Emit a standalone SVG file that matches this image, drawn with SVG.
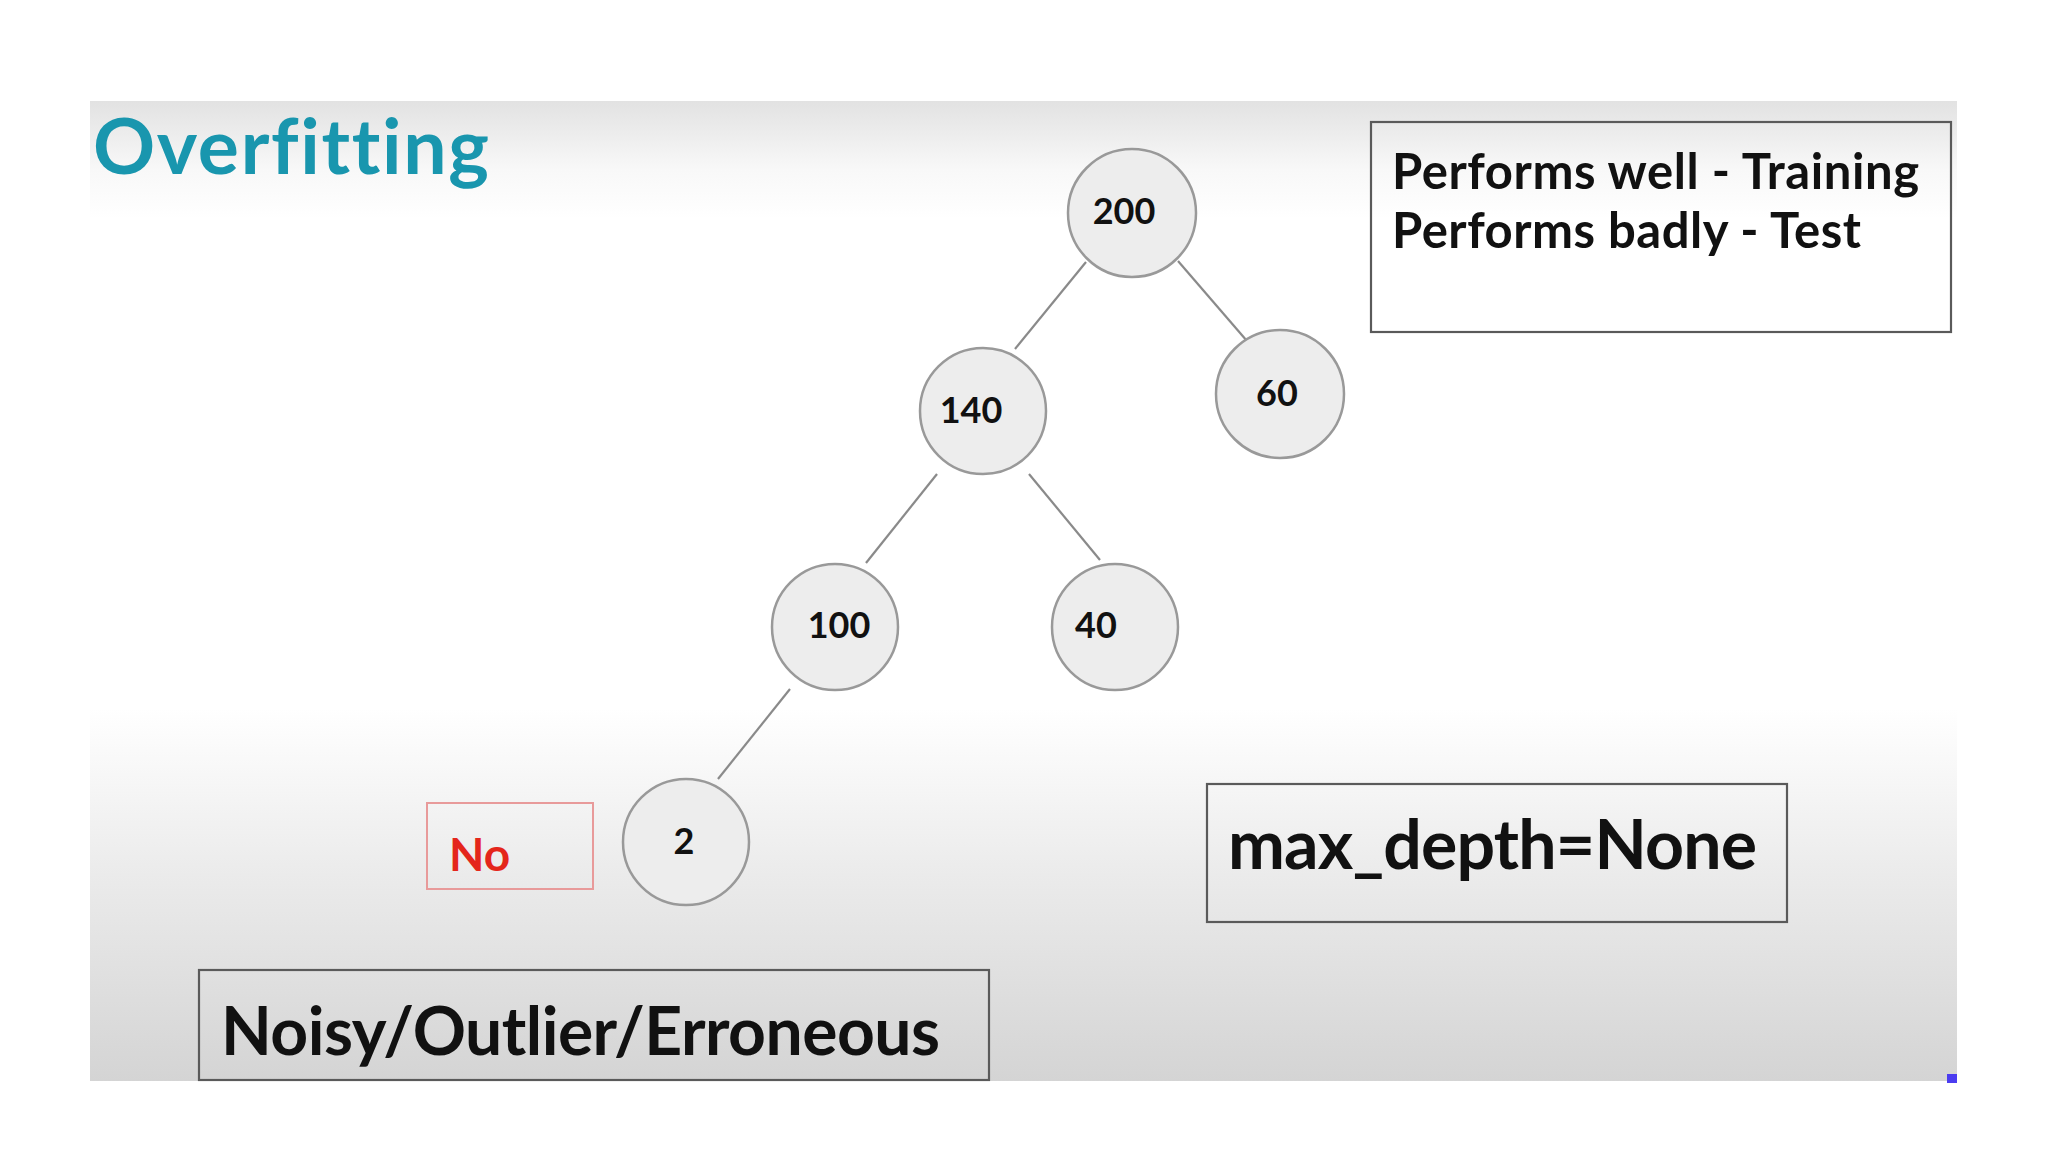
<svg xmlns="http://www.w3.org/2000/svg" width="2048" height="1152" viewBox="0 0 2048 1152">
  <defs>
    <linearGradient id="bg" x1="0" y1="101" x2="0" y2="1081" gradientUnits="userSpaceOnUse">
      <stop offset="0" stop-color="#e2e2e2"/>
      <stop offset="0.07" stop-color="#f8f8f8"/>
      <stop offset="0.12" stop-color="#ffffff"/>
      <stop offset="0.62" stop-color="#ffffff"/>
      <stop offset="0.78" stop-color="#ececec"/>
      <stop offset="1" stop-color="#d4d4d4"/>
    </linearGradient>
    <style>
      .node circle { fill: #ededed; stroke: #999999; stroke-width: 2.5; }
      .node text { font-family: Lato, "Liberation Sans", sans-serif; font-weight: 700; font-size: 36px; fill: #111111; text-anchor: middle; }
      .conn line { stroke: #8a8a8a; stroke-width: 2.2; }
      .box { fill: none; stroke: #5a5a5a; stroke-width: 2.2; }
      .lbl { font-family: Lato, "Liberation Sans", sans-serif; font-weight: 700; fill: #111111; font-variant-ligatures: none; }
    </style>
  </defs>
  <rect x="0" y="0" width="2048" height="1152" fill="#ffffff"/>
  <rect x="90" y="101" width="1867" height="980" fill="url(#bg)"/>
  <rect x="1947" y="1074" width="10" height="9" fill="#4b3cf0"/>

  <text id="title" x="93" y="174" font-family="Lato, 'Liberation Sans', sans-serif" font-weight="700" font-size="77" fill="#1996ae" style="font-variant-ligatures: none" textLength="396">Overfitting</text>

  <g id="connectors" class="conn">
    <line x1="1086" y1="262" x2="1015" y2="349"/>
    <line x1="1178" y1="261" x2="1247" y2="341"/>
    <line x1="937" y1="474" x2="866" y2="563"/>
    <line x1="1029" y1="474" x2="1100" y2="560"/>
    <line x1="790" y1="689" x2="718" y2="779"/>
  </g>

  <g id="node-200" class="node"><circle cx="1132" cy="213" r="64"/><text x="1124" y="224">200</text></g>
  <g id="node-60" class="node"><circle cx="1280" cy="394" r="64"/><text x="1277" y="406">60</text></g>
  <g id="node-140" class="node"><circle cx="983" cy="411" r="63"/><text x="971" y="423">140</text></g>
  <g id="node-100" class="node"><circle cx="835" cy="627" r="63"/><text x="839" y="638">100</text></g>
  <g id="node-40" class="node"><circle cx="1115" cy="627" r="63"/><text x="1096" y="638">40</text></g>
  <g id="node-2" class="node"><circle cx="686" cy="842" r="63"/><text x="684" y="854">2</text></g>

  <g id="no-box">
    <rect x="427" y="803" width="166" height="86" fill="none" stroke="#e89a9a" stroke-width="2"/>
    <text x="449" y="871" font-family="Lato, 'Liberation Sans', sans-serif" font-weight="700" font-size="46" fill="#e4261b">No</text>
  </g>

  <g id="performs-box">
    <rect class="box" x="1371" y="122" width="580" height="210"/>
    <text class="lbl" x="1392" y="189" font-size="49" textLength="527">Performs well - Training</text>
    <text class="lbl" x="1392" y="248" font-size="49" textLength="469">Performs badly - Test</text>
  </g>

  <g id="maxdepth-box">
    <rect class="box" x="1207" y="784" width="580" height="138"/>
    <text class="lbl" x="1228" y="869" font-size="68" textLength="529">max_depth=None</text>
  </g>

  <g id="noisy-box">
    <rect class="box" x="199" y="970" width="790" height="110" stroke="#666666"/>
    <text class="lbl" x="221" y="1055" font-size="66" fill="#333333" textLength="719">Noisy/Outlier/Erroneous</text>
  </g>
</svg>
